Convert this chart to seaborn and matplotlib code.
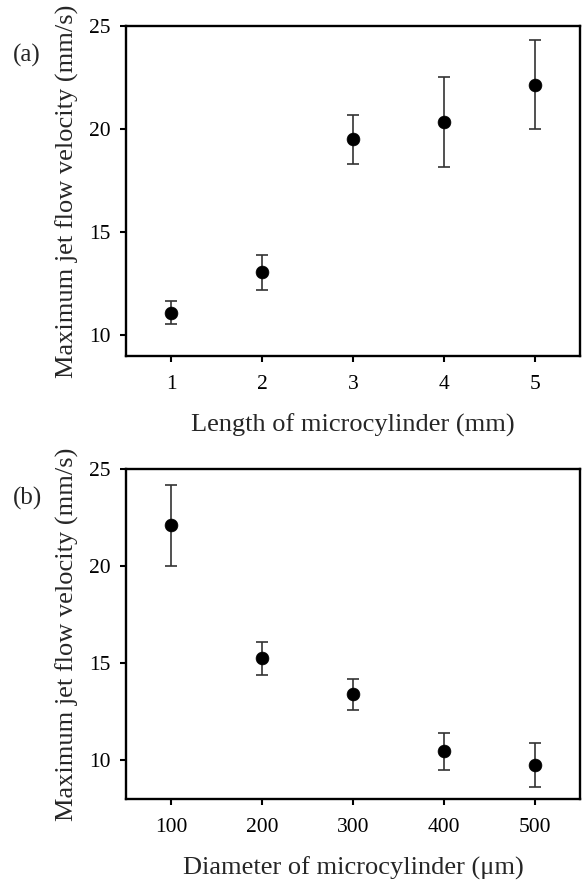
import matplotlib
matplotlib.use("Agg")
import matplotlib.pyplot as plt
import seaborn as sns
import pandas as pd

# Panel (a): length of microcylinder
length_mm = [1, 2, 3, 4, 5]
vel_a = [11.1, 13.05, 19.5, 20.35, 22.15]
err_a = [0.55, 0.85, 1.2, 2.2, 2.15]

# Panel (b): diameter of microcylinder
diam_um = [100, 200, 300, 400, 500]
vel_b = [22.1, 15.25, 13.4, 10.45, 9.75]
err_b = [2.1, 0.85, 0.8, 0.95, 1.15]

sns.set_theme(style="ticks")
plt.rcParams['font.family'] = ['Liberation Serif', 'DejaVu Serif']

W, H = 584, 881
fig = plt.figure(figsize=(W / 100, H / 100), dpi=100)

def frac(l, t, r, b):
    return [l / W, 1 - b / H, (r - l) / W, (b - t) / H]

ax1 = fig.add_axes(frac(126, 26, 580, 356))
ax2 = fig.add_axes(frac(126, 469, 580, 799))

def draw(ax, x, y, e, xlabel, xlim, ylim, xticks, tag):
    df = pd.DataFrame({"x": x, "y": y})
    ax.errorbar(x, y, yerr=e, fmt='none', ecolor='#333333', elinewidth=1.2,
                capsize=4.5, capthick=1.2, zorder=2)
    sns.scatterplot(data=df, x="x", y="y", ax=ax, color='black', s=85,
                    edgecolor='black', linewidth=0.5, zorder=3, legend=False)
    ax.set_xlim(*xlim)
    ax.set_ylim(*ylim)
    ax.set_xticks(xticks)
    ax.set_yticks([10, 15, 20, 25])
    ax.set_xlabel(xlabel, fontsize=19, labelpad=14)
    ax.set_ylabel("Maximum jet flow velocity (mm/s)", fontsize=19, labelpad=7)
    ax.tick_params(axis='both', direction='out', length=4, width=1.5,
                   labelsize=15.5, pad=7, colors='black')
    ax.tick_params(axis='x', pad=10)
    for s in ax.spines.values():
        s.set_visible(True)
        s.set_linewidth(1.7)
        s.set_color('black')
    ax.text(-0.218, 0.912, tag, transform=ax.transAxes, fontsize=18,
            ha='center', va='center')

draw(ax1, length_mm, vel_a, err_a, "Length of microcylinder (mm)",
     (0.5, 5.5), (9, 25), length_mm, "(a)")
draw(ax2, diam_um, vel_b, err_b, "Diameter of microcylinder (\u03bcm)",
     (50, 550), (8, 25), diam_um, "(b)")

fig.savefig("out.png", dpi=100)
